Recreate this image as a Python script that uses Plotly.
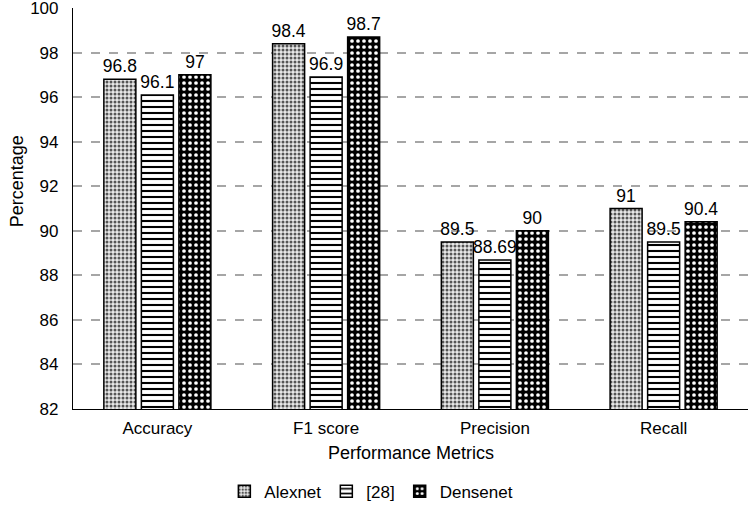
import plotly.graph_objects as go

categories = ["Accuracy", "F1 score", "Precision", "Recall"]
series_names = ["Alexnet", "[28]", "Densenet"]
alexnet = [96.8, 98.4, 89.5, 91]
ref28 = [96.1, 96.9, 88.69, 89.5]
densenet = [97, 98.7, 90, 90.4]
y_ticks = [82, 84, 86, 88, 90, 92, 94, 96, 98, 100]

FONT = "Arial, Liberation Sans, sans-serif"

patterns = [
    dict(shape=".", fgcolor="#555555", bgcolor="#e8e8e8", size=4, solidity=0.45, fillmode="replace"),
    dict(shape="-", fgcolor="#000000", bgcolor="#ffffff", size=6, solidity=0.35, fillmode="replace"),
    dict(shape=".", fgcolor="#ffffff", bgcolor="#000000", size=6, solidity=0.3, fillmode="replace"),
]

fig = go.Figure()
for name, vals, pat in zip(series_names, [alexnet, ref28, densenet], patterns):
    fig.add_trace(go.Bar(
        name=name, x=categories, y=vals,
        text=[str(v) for v in vals], textposition="outside",
        constraintext="none",
        textfont=dict(family=FONT, size=17.5, color="#000000"),
        marker=dict(color="#ffffff", pattern=pat, line=dict(color="#000000", width=1.5)),
        cliponaxis=False,
    ))

fig.update_layout(
    width=750, height=514,
    margin=dict(l=73, r=2, t=8, b=105),
    paper_bgcolor="white", plot_bgcolor="white",
    barmode="group", bargap=0.333, bargroupgap=0.147,
    font=dict(family=FONT, size=16, color="#000000"),
    showlegend=True,
    legend=dict(orientation="h", x=0.442, xanchor="center",
                y=-0.206, yanchor="middle",
                font=dict(family=FONT, size=17, color="#000000"), itemwidth=30,
                tracegroupgap=0),
    xaxis=dict(
        automargin=False,
        showline=True, linecolor="#000000", linewidth=1.2, ticks="",
        tickfont=dict(family=FONT, size=17), ticklabelstandoff=3,
    ),
    yaxis=dict(
        automargin=False,
        range=[82, 100], tickvals=y_ticks, ticktext=[str(t) for t in y_ticks],
        showline=True, linecolor="#000000", linewidth=1.2, ticks="",
        showgrid=True, gridcolor="#a6a6a6", griddash="dash", gridwidth=1.5,
        zeroline=False, tickfont=dict(family=FONT, size=17), ticklabelstandoff=10,
        ticklabeloverflow="allow",
    ),
    annotations=[
        dict(text="Performance Metrics", xref="paper", yref="paper", x=0.5, y=-0.11,
             xanchor="center", yanchor="middle", showarrow=False,
             font=dict(family=FONT, size=18, color="#000000")),
        dict(text="Percentage", xref="paper", yref="paper", x=-0.083, y=0.568,
             xanchor="center", yanchor="middle", showarrow=False, textangle=-90,
             font=dict(family=FONT, size=18, color="#000000")),
    ],
)

fig.write_html("out.html", config={"displayModeBar": False},
               post_script="document.body.style.margin='0px';")
